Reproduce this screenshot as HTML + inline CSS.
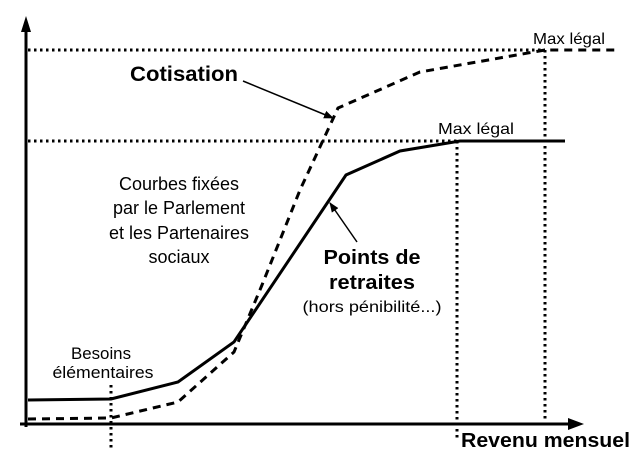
<!DOCTYPE html>
<html><head><style>body{margin:0;background:#fff}svg{display:block}text{font-family:"Liberation Sans",sans-serif;fill:#000}</style></head><body>
<svg width="644" height="463" viewBox="0 0 644 463">
<defs><marker id="a" markerWidth="10" markerHeight="10" refX="9" refY="5" orient="auto" markerUnits="userSpaceOnUse"><path d="M0,1 L10,5 L0,9 Z"/></marker></defs>
<line x1="26" y1="427" x2="26" y2="30" stroke="#000" stroke-width="3"/>
<path d="M26,16 L21,32 L31,32 Z"/>
<line x1="20" y1="424" x2="570" y2="424" stroke="#000" stroke-width="3"/>
<path d="M584,424 L568,418 L568,430 Z"/>
<g stroke="#000" stroke-width="3" stroke-dasharray="2.5,3.5" fill="none">
<line x1="28" y1="50" x2="545" y2="50"/>
<line x1="28" y1="141" x2="460" y2="141"/>
<line x1="457" y1="141" x2="457" y2="440"/>
<line x1="545" y1="50" x2="545" y2="422"/>
<line x1="111" y1="385" x2="111" y2="450"/>
</g>
<polyline points="28,400 111,399 178,382 234,342 346,175 400,151 460,141 565,141" fill="none" stroke="#000" stroke-width="3"/>
<polyline points="28,419 111,418 178,402 234,352 262,285 300,190 338,108 420,72 545,50 620,50" fill="none" stroke="#000" stroke-width="3" stroke-dasharray="8,6"/>
<line x1="243" y1="81" x2="333" y2="118" stroke="#000" stroke-width="1.5" marker-end="url(#a)"/>
<line x1="357" y1="242" x2="330" y2="203" stroke="#000" stroke-width="1.5" marker-end="url(#a)"/>
<text x="569" y="44" font-size="16" text-anchor="middle" textLength="72" lengthAdjust="spacingAndGlyphs">Max légal</text>
<text x="476" y="134" font-size="16" text-anchor="middle" textLength="76" lengthAdjust="spacingAndGlyphs">Max légal</text>
<text x="184" y="81" font-size="21" font-weight="bold" text-anchor="middle" textLength="108" lengthAdjust="spacingAndGlyphs">Cotisation</text>
<g font-size="18" text-anchor="middle">
<text x="179" y="190">Courbes fixées</text>
<text x="179" y="214">par le Parlement</text>
<text x="179" y="239">et les Partenaires</text>
<text x="179" y="263">sociaux</text>
</g>
<text x="372" y="264" font-size="20" font-weight="bold" text-anchor="middle" textLength="97" lengthAdjust="spacingAndGlyphs">Points de</text>
<text x="372" y="289" font-size="20" font-weight="bold" text-anchor="middle" textLength="86" lengthAdjust="spacingAndGlyphs">retraites</text>
<text x="372" y="312" font-size="16" text-anchor="middle" textLength="139" lengthAdjust="spacingAndGlyphs">(hors pénibilité...)</text>
<text x="101" y="359" font-size="17" text-anchor="middle" textLength="60" lengthAdjust="spacingAndGlyphs">Besoins</text>
<text x="103" y="378" font-size="17" text-anchor="middle" textLength="101" lengthAdjust="spacingAndGlyphs">élémentaires</text>
<text x="461" y="447" font-size="20" font-weight="bold" textLength="169" lengthAdjust="spacingAndGlyphs">Revenu mensuel</text>
</svg>
</body></html>
